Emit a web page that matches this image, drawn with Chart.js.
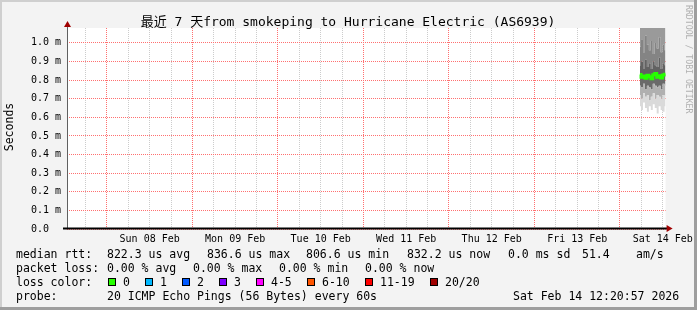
<!DOCTYPE html>
<html lang="en">
	<head>
		<meta charset="utf-8" />
		<title>最近 7 天 - Hurricane Electric</title>
		<script src="https://cdn.jsdelivr.net/npm/chart.js@4.4.1/dist/chart.umd.min.js"></script>
		<style>
			body { margin: 0; background: #f3f3f3; }
		</style>
	</head>
	<body>

		<canvas id="myChart" width="697" height="310"></canvas>
		<script type="text/javascript">

			// x values are hours counted from Sun 08 Feb 00:00
			const startHour = -11.2;
			const endHour = 156.8;

			const dayTicks = [12, 36, 60, 84, 108, 132, 156];
			const dayLabels = ['Sun 08 Feb', 'Mon 09 Feb', 'Tue 10 Feb', 'Wed 11 Feb', 'Thu 12 Feb', 'Fri 13 Feb', 'Sat 14 Feb'];

			const yTicks = [0, 0.1, 0.2, 0.3, 0.4, 0.5, 0.6, 0.7, 0.8, 0.9, 1.0];
			const yLabels = ['0.0', '0.1 m', '0.2 m', '0.3 m', '0.4 m', '0.5 m', '0.6 m', '0.7 m', '0.8 m', '0.9 m', '1.0 m'];

			// samples on Sat 14 Feb (ms), sorted pings split into bands
			const sampleHours = [149.6, 150.2, 150.7, 151.3, 151.8, 152.4, 152.9, 153.5, 154.0, 154.6, 155.1, 155.7, 156.2, 156.8];
			const pingP5  = [0.66, 0.64, 0.68, 0.65, 0.63, 0.66, 0.64, 0.67, 0.65, 0.62, 0.66, 0.64, 0.63, 0.66];
			const pingP15 = [0.72, 0.70, 0.73, 0.71, 0.72, 0.69, 0.71, 0.73, 0.70, 0.72, 0.71, 0.70, 0.72, 0.71];
			const pingP30 = [0.77, 0.76, 0.78, 0.75, 0.77, 0.76, 0.75, 0.78, 0.77, 0.76, 0.77, 0.75, 0.78, 0.77];
			const median  = [0.830, 0.815, 0.822, 0.810, 0.826, 0.818, 0.807, 0.829, 0.836, 0.815, 0.824, 0.812, 0.828, 0.832];
			const pingP70 = [0.88, 0.90, 0.86, 0.91, 0.87, 0.89, 0.86, 0.90, 0.88, 0.87, 0.92, 0.86, 0.89, 0.88];
			const pingP85 = [0.98, 1.02, 0.95, 1.04, 0.99, 0.96, 1.01, 0.94, 1.00, 0.97, 1.03, 0.95, 0.99, 0.96];
			const pingP95 = [1.12, 1.15, 1.10, 1.18, 1.14, 1.12, 1.16, 1.11, 1.15, 1.13, 1.17, 1.12, 1.14, 1.10];

			const lossColors = ['#26ff00', '#00b8ff', '#0059ff', '#7e00ff', '#ff00ff', '#ff5500', '#ff0000', '#a00000'];
			const lossLabels = ['0', '1', '2', '3', '4-5', '6-10', '11-19', '20/20'];

			const mono = '"DejaVu Sans Mono", "Noto Sans CJK SC", monospace';

			// legend rows: [x, text]
			const legendRows = [
				[[16, 'median rtt:'], [107, '822.3 us avg'], [207, '836.6 us max'], [306, '806.6 us min'], [407, '832.2 us now'], [508, '0.0 ms sd'], [582, '51.4'], [636, 'am/s']],
				[[16, 'packet loss:'], [107, '0.00 % avg'], [193, '0.00 % max'], [279, '0.00 % min'], [365, '0.00 % now']],
				[[16, 'loss color:']],
				[[16, 'probe:'], [107, '20 ICMP Echo Pings (56 Bytes) every 60s'], [513, 'Sat Feb 14 12:20:57 2026']]
			];
			const lossBoxX = [108, 145, 182, 219, 256, 307, 365, 430];

			function points(arr)
			{
				return sampleHours.map((h, i) => ({x: h, y: arr[i]}));
			}

			function band(arr, target, color)
			{
				return {
					data: points(arr),
					fill: target,
					backgroundColor: color,
					borderWidth: 0,
					pointRadius: 0,
					stepped: 'middle'
				};
			}

			const gridHours = [];
			for (let h = -6; h <= endHour; h += 6) gridHours.push(h);

			const rrdLook = {
				id: 'rrdLook',
				beforeDraw(chart) {
					const c = chart.ctx;
					const a = chart.chartArea;
					c.save();
					c.fillStyle = '#f3f3f3';
					c.fillRect(0, 0, chart.width, chart.height);
					c.fillStyle = '#cfcfcf';
					c.fillRect(0, 0, chart.width, 2);
					c.fillRect(0, 0, 2, chart.height);
					c.fillStyle = '#9e9e9e';
					c.fillRect(chart.width - 3, 0, 3, chart.height);
					c.fillRect(0, chart.height - 3, chart.width, 3);
					c.fillStyle = '#ffffff';
					c.fillRect(a.left, a.top, a.right - a.left, a.bottom - a.top);
					c.restore();
				},
				afterDraw(chart) {
					const c = chart.ctx;
					const a = chart.chartArea;
					c.save();

					// axes with arrow heads
					c.strokeStyle = '#606060';
					c.lineWidth = 1;
					c.beginPath();
					c.moveTo(a.left + 0.5, a.bottom);
					c.lineTo(a.left + 0.5, a.top - 5);
					c.stroke();
					c.strokeStyle = '#000000';
					c.lineWidth = 2;
					c.beginPath();
					c.moveTo(a.left - 4, a.bottom - 0.5);
					c.lineTo(a.right + 2, a.bottom - 0.5);
					c.stroke();
					c.fillStyle = '#a00000';
					c.beginPath();
					c.moveTo(a.left - 3, a.top - 1);
					c.lineTo(a.left + 4, a.top - 1);
					c.lineTo(a.left + 0.5, a.top - 7);
					c.fill();
					c.beginPath();
					c.moveTo(a.right + 1, a.bottom - 4);
					c.lineTo(a.right + 1, a.bottom + 3);
					c.lineTo(a.right + 7, a.bottom - 0.5);
					c.fill();

					// title
					c.fillStyle = '#000000';
					c.font = '13px ' + mono;
					c.textAlign = 'center';
					c.textBaseline = 'alphabetic';
					c.fillText('最近 7 天from smokeping to Hurricane Electric (AS6939)', 348, 26);

					// y axis name
					c.font = '11.5px ' + mono;
					c.save();
					c.translate(13, 127);
					c.rotate(-Math.PI / 2);
					c.fillText('Seconds', 0, 0);
					c.restore();

					// legend text
					c.textAlign = 'left';
					legendRows.forEach((row, r) => {
						row.forEach(([x, t]) => c.fillText(t, x, 258 + r * 14));
					});
					lossLabels.forEach((t, i) => {
						const x = lossBoxX[i];
						c.fillStyle = lossColors[i];
						c.fillRect(x, 278, 8, 8);
						c.strokeStyle = '#000000';
						c.lineWidth = 1;
						c.strokeRect(x + 0.5, 278.5, 7, 7);
						c.fillStyle = '#000000';
						c.fillText(t, x + 15, 286);
					});

					// watermark
					c.fillStyle = '#b0b0b0';
					c.font = '8.2px ' + mono;
					c.translate(686, 5);
					c.rotate(Math.PI / 2);
					c.fillText('RRDTOOL / TOBI OETIKER', 0, 0);
					c.restore();
				}
			};

			const majorGrid = '#ff7070';

			const ctx = document.getElementById('myChart').getContext('2d');
			const myChart = new Chart(ctx, {
				type: 'line',
				data: {
					datasets: [
						{
							data: points(median),
							borderColor: '#26ff00',
							borderWidth: 3,
							pointRadius: 0,
							fill: false,
							stepped: 'middle'
						},
						band(pingP5, false, 'transparent'),
						band(pingP15, 1, '#dadada'),
						band(pingP30, 2, '#b0b0b0'),
						band(median, 3, '#6a6a6a'),
						band(pingP70, 4, '#626262'),
						band(pingP85, 5, '#848484'),
						band(pingP95, 6, '#9a9a9a')
					]
				},
				options: {
					responsive: false,
					animation: false,
					events: [],
					layout: { padding: { left: 31, top: 28, right: 30, bottom: 0 } },
					plugins: {
						legend: { display: false },
						tooltip: { enabled: false }
					},
					scales: {
						x: {
							type: 'linear',
							min: startHour,
							max: endHour,
							z: 1,
							afterBuildTicks: s => { s.ticks = gridHours.map(v => ({value: v})); },
							afterFit: s => { s.height = 81; },
							border: { display: false, dash: [1, 1] },
							grid: {
								drawTicks: false,
								borderDash: [1, 1],
								color: c => (c.tick && c.tick.value % 24 === 0) ? majorGrid : '#cccccc'
							},
							ticks: {
								autoSkip: false,
								maxRotation: 0,
								padding: 4,
								color: '#000000',
								font: { family: mono, size: 10 },
								callback: v => {
									const i = dayTicks.indexOf(v);
									return i >= 0 ? dayLabels[i] : '';
								}
							}
						},
						y: {
							min: 0,
							max: 1.08,
							z: 1,
							afterBuildTicks: s => { s.ticks = yTicks.map(v => ({value: v})); },
							afterFit: s => { s.width = 36; },
							border: { display: false, dash: [1, 1] },
							grid: {
								drawTicks: false,
								borderDash: [1, 1],
								color: majorGrid
							},
							ticks: {
								crossAlign: 'far',
								color: '#000000',
								font: { family: mono, size: 10 },
								callback: (v, i) => yLabels[i]
							}
						}
					}
				},
				plugins: [rrdLook]
			});
		</script>
	</body>
</html>
